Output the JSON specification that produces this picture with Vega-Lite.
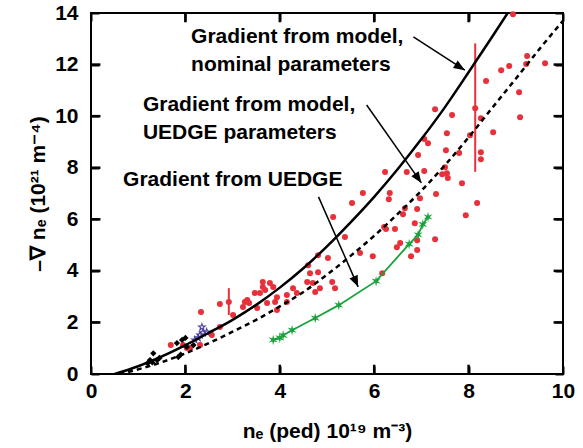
{
  "$schema": "https://vega.github.io/schema/vega-lite/v6.json",
  "width": 472,
  "height": 361,
  "autosize": "none",
  "padding": {"left": 91, "top": 13, "right": 20, "bottom": 74},
  "background": "white",
  "config": {
    "font": "Liberation Sans",
    "view": {"stroke": "black", "strokeWidth": 2},
    "axis": {
      "grid": false,
      "domain": false,
      "ticks": true,
      "zindex": 1,
      "offset": -8,
      "tickColor": "black",
      "tickOpacity": 1,
      "tickWidth": 2,
      "tickSize": 8,
      "labelFont": "Liberation Sans",
      "labelFontSize": 21,
      "labelFontWeight": "bold",
      "labelColor": "black",
      "titleFont": "Liberation Sans",
      "titleFontSize": 21,
      "titleFontWeight": "bold",
      "titleColor": "black",
      "labelFlush": false
    }
  },
  "datasets": {
    "red": [
      {"x":1.69,"y":1.12},{"x":1.95,"y":1.12},{"x":2.03,"y":1.01},{"x":2.10,"y":1.01},{"x":2.31,"y":1.12},
      {"x":2.56,"y":1.51},{"x":2.73,"y":1.82},{"x":2.33,"y":2.40},{"x":2.73,"y":2.71},{"x":2.92,"y":2.79},
      {"x":3.01,"y":2.29},{"x":3.22,"y":2.60},{"x":3.26,"y":2.79},{"x":3.31,"y":2.87},{"x":3.35,"y":2.75},
      {"x":3.52,"y":2.56},{"x":3.58,"y":3.14},{"x":3.64,"y":3.37},{"x":3.69,"y":3.26},{"x":3.79,"y":3.53},
      {"x":3.86,"y":3.37},{"x":3.73,"y":2.75},{"x":3.90,"y":2.79},{"x":3.94,"y":2.98},{"x":4.15,"y":3.06},
      {"x":4.15,"y":2.79},{"x":4.28,"y":3.33},{"x":4.36,"y":3.14},{"x":3.94,"y":2.48},{"x":4.58,"y":3.57},
      {"x":4.64,"y":3.91},{"x":4.70,"y":3.53},{"x":4.75,"y":3.18},{"x":4.85,"y":3.33},{"x":4.81,"y":3.95},
      {"x":5.11,"y":3.57},{"x":5.17,"y":3.33},{"x":4.60,"y":4.22},{"x":4.81,"y":4.61},{"x":5.02,"y":4.50},
      {"x":5.38,"y":5.31},{"x":5.13,"y":6.09},{"x":5.53,"y":6.63},{"x":5.76,"y":7.02},{"x":5.70,"y":4.69},
      {"x":5.97,"y":4.57},{"x":6.17,"y":3.91},{"x":6.23,"y":7.83},{"x":6.69,"y":7.83},{"x":6.93,"y":8.49},
      {"x":6.33,"y":7.02},{"x":6.31,"y":6.78},{"x":6.97,"y":6.82},{"x":6.65,"y":6.43},{"x":6.61,"y":6.20},
      {"x":6.91,"y":6.40},{"x":7.31,"y":6.98},{"x":7.54,"y":7.79},{"x":6.21,"y":5.70},{"x":6.25,"y":5.62},
      {"x":6.44,"y":5.62},{"x":6.86,"y":5.85},{"x":6.48,"y":4.92},{"x":6.55,"y":5.08},{"x":6.91,"y":5.19},
      {"x":6.91,"y":4.81},{"x":6.78,"y":4.57},{"x":7.29,"y":5.23},{"x":7.94,"y":6.16},{"x":8.18,"y":6.63},
      {"x":7.44,"y":7.75},{"x":7.56,"y":7.60},{"x":7.86,"y":7.40},{"x":7.50,"y":8.02},{"x":7.06,"y":9.11},
      {"x":7.14,"y":8.95},{"x":7.52,"y":8.68},{"x":7.80,"y":8.57},{"x":8.26,"y":8.60},{"x":8.26,"y":8.33},
      {"x":7.06,"y":7.87},{"x":7.54,"y":9.34},{"x":8.03,"y":9.26},{"x":8.52,"y":9.38},{"x":7.29,"y":10.27},
      {"x":7.65,"y":10.04},{"x":8.26,"y":9.92},{"x":9.07,"y":10.93},{"x":9.09,"y":9.96},{"x":8.14,"y":10.31},
      {"x":8.37,"y":11.36},{"x":8.69,"y":11.78},{"x":8.86,"y":11.94},{"x":9.22,"y":12.02},{"x":9.24,"y":12.33},
      {"x":9.62,"y":12.05},{"x":8.94,"y":13.95},{"x":3.64,"y":3.57},{"x":3.47,"y":3.14}
    ],
    "errbars": [
      {"x":2.92,"lo":2.29,"hi":3.33},
      {"x":8.14,"lo":7.84,"hi":12.82}
    ],
    "black": [
      {"x":1.20,"y":0.42},{"x":1.25,"y":0.54},{"x":1.32,"y":0.80},{"x":1.40,"y":0.54},{"x":1.45,"y":0.62},
      {"x":1.30,"y":0.45},{"x":1.82,"y":1.20},{"x":1.85,"y":0.66},{"x":1.93,"y":1.32},{"x":2.00,"y":1.40},
      {"x":2.03,"y":1.05},{"x":2.17,"y":1.12},{"x":1.90,"y":0.75}
    ],
    "purple": [
      {"x":2.20,"y":1.32},{"x":2.27,"y":1.40},{"x":2.31,"y":1.51},{"x":2.35,"y":1.82},{"x":2.37,"y":1.60},{"x":2.45,"y":1.63}
    ],
    "nominal": [
      {"x":0.50,"y":0.00},{"x":1.00,"y":0.30},{"x":1.50,"y":0.68},{"x":2.00,"y":1.12},{"x":2.50,"y":1.60},
      {"x":3.00,"y":2.10},{"x":3.50,"y":2.68},{"x":4.00,"y":3.35},{"x":4.50,"y":4.10},{"x":5.00,"y":4.95},
      {"x":5.50,"y":5.88},{"x":6.00,"y":6.87},{"x":6.50,"y":7.95},{"x":7.00,"y":9.11},{"x":7.50,"y":10.35},
      {"x":8.00,"y":11.70},{"x":8.50,"y":13.08},{"x":8.90,"y":14.20}
    ],
    "uedge": [
      {"x":0.60,"y":0.00},{"x":1.00,"y":0.18},{"x":1.50,"y":0.46},{"x":2.00,"y":0.80},{"x":2.50,"y":1.20},
      {"x":3.00,"y":1.64},{"x":3.50,"y":2.10},{"x":4.00,"y":2.62},{"x":4.50,"y":3.18},{"x":5.00,"y":3.85},
      {"x":5.50,"y":4.58},{"x":6.00,"y":5.36},{"x":6.50,"y":6.21},{"x":7.00,"y":7.11},{"x":7.50,"y":8.10},
      {"x":8.00,"y":9.18},{"x":8.50,"y":10.32},{"x":9.00,"y":11.45},{"x":9.50,"y":12.60},{"x":10.00,"y":13.70}
    ],
    "green": [
      {"x":3.86,"y":1.32},{"x":4.00,"y":1.40},{"x":4.07,"y":1.50},{"x":4.26,"y":1.70},{"x":4.75,"y":2.17},
      {"x":5.25,"y":2.67},{"x":6.04,"y":3.60},{"x":6.74,"y":5.04},{"x":6.93,"y":5.40},{"x":7.03,"y":5.80},
      {"x":7.14,"y":6.09}
    ],
    "arrows": [
      {"id":1,"x":6.83,"y":13.07,"x2":7.92,"y2":11.78},
      {"id":2,"x":5.84,"y":10.43,"x2":7.00,"y2":7.41},
      {"id":3,"x":4.82,"y":6.87,"x2":5.66,"y2":3.38}
    ],
    "labels": [
      {"x":2.12,"y":13.06,"text":"Gradient from model,"},
      {"x":2.12,"y":11.98,"text":"nominal parameters"},
      {"x":1.10,"y":10.43,"text":"Gradient from model,"},
      {"x":1.10,"y":9.34,"text":"UEDGE parameters"},
      {"x":0.68,"y":7.52,"text":"Gradient from UEDGE"}
    ],
    "xticks": [{"v":2},{"v":4},{"v":6},{"v":8}],
    "yticks": [{"v":2},{"v":4},{"v":6},{"v":8},{"v":10},{"v":12}]
  },
  "resolve": {"axis": {"x": "independent", "y": "independent"}},
  "layer": [
    {
      "data": {"name": "red"},
      "mark": {"type": "point", "shape": "circle", "filled": true, "color": "#e8303a", "size": 36, "opacity": 1},
      "encoding": {
        "x": {"field": "x", "type": "quantitative", "scale": {"domain": [0, 10], "nice": false, "zero": false},
              "axis": {"orient": "bottom", "values": [0, 2, 4, 6, 8, 10], "labelPadding": 6, "title": "nₑ (ped) 10¹⁹ m⁻³)", "titlePadding": 19}},
        "y": {"field": "y", "type": "quantitative", "scale": {"domain": [0, 14], "nice": false, "zero": false},
              "axis": {"orient": "left", "values": [0, 2, 4, 6, 8, 10, 12, 14], "labelPadding": 13, "title": "–∇ nₑ (10²¹ m⁻⁴)", "titlePadding": 6}}
      }
    },
    {
      "data": {"name": "errbars"},
      "mark": {"type": "rule", "color": "#e8303a", "strokeWidth": 2},
      "encoding": {
        "x": {"field": "x", "type": "quantitative",
              "axis": {"orient": "top", "values": [0, 2, 4, 6, 8, 10], "labels": false, "title": null}},
        "y": {"field": "lo", "type": "quantitative",
              "axis": {"orient": "right", "values": [0, 2, 4, 6, 8, 10, 12, 14], "labels": false, "title": null}},
        "y2": {"field": "hi"}
      }
    },
    {
      "data": {"name": "xticks"},
      "mark": {"type": "rule", "color": "black", "strokeWidth": 2.5},
      "encoding": {
        "x": {"field": "v", "type": "quantitative", "axis": null},
        "y": {"datum": 0, "type": "quantitative", "axis": null},
        "y2": {"datum": 0.36}
      }
    },
    {
      "data": {"name": "xticks"},
      "mark": {"type": "rule", "color": "black", "strokeWidth": 2.5},
      "encoding": {
        "x": {"field": "v", "type": "quantitative", "axis": null},
        "y": {"datum": 14, "type": "quantitative", "axis": null},
        "y2": {"datum": 13.64}
      }
    },
    {
      "data": {"name": "yticks"},
      "mark": {"type": "rule", "color": "black", "strokeWidth": 2.5},
      "encoding": {
        "y": {"field": "v", "type": "quantitative", "axis": null},
        "x": {"datum": 0, "type": "quantitative", "axis": null},
        "x2": {"datum": 0.2}
      }
    },
    {
      "data": {"name": "yticks"},
      "mark": {"type": "rule", "color": "black", "strokeWidth": 2.5},
      "encoding": {
        "y": {"field": "v", "type": "quantitative", "axis": null},
        "x": {"datum": 10, "type": "quantitative", "axis": null},
        "x2": {"datum": 9.8}
      }
    },
    {
      "data": {"name": "black"},
      "mark": {"type": "point", "shape": "diamond", "filled": true, "color": "black", "size": 40, "opacity": 1},
      "encoding": {
        "x": {"field": "x", "type": "quantitative", "axis": null},
        "y": {"field": "y", "type": "quantitative", "axis": null}
      }
    },
    {
      "data": {"name": "purple"},
      "mark": {"type": "point", "shape": "M0,-1L0.235,-0.324L0.951,-0.309L0.38,0.124L0.588,0.809L0,0.4L-0.588,0.809L-0.38,0.124L-0.951,-0.309L-0.235,-0.324Z", "filled": false, "color": "#5040a0", "strokeWidth": 1.1, "size": 48, "opacity": 1},
      "encoding": {
        "x": {"field": "x", "type": "quantitative", "axis": null},
        "y": {"field": "y", "type": "quantitative", "axis": null}
      }
    },
    {
      "data": {"name": "nominal"},
      "mark": {"type": "line", "color": "black", "strokeWidth": 2.5, "interpolate": "monotone", "clip": true},
      "encoding": {
        "x": {"field": "x", "type": "quantitative", "axis": null},
        "y": {"field": "y", "type": "quantitative", "axis": null}
      }
    },
    {
      "data": {"name": "uedge"},
      "mark": {"type": "line", "color": "black", "strokeWidth": 2.5, "strokeDash": [5, 4], "interpolate": "monotone", "clip": true},
      "encoding": {
        "x": {"field": "x", "type": "quantitative", "axis": null},
        "y": {"field": "y", "type": "quantitative", "axis": null}
      }
    },
    {
      "data": {"name": "green"},
      "mark": {"type": "line", "color": "#19a33c", "strokeWidth": 1.8},
      "encoding": {
        "x": {"field": "x", "type": "quantitative", "axis": null},
        "y": {"field": "y", "type": "quantitative", "axis": null}
      }
    },
    {
      "data": {"name": "green"},
      "mark": {"type": "point", "shape": "M0,-1L0.175,-0.303L0.866,-0.5L0.35,0L0.866,0.5L0.175,0.303L0,1L-0.175,0.303L-0.866,0.5L-0.35,0L-0.866,-0.5L-0.175,-0.303Z", "filled": true, "color": "#19a33c", "size": 110, "opacity": 1},
      "encoding": {
        "x": {"field": "x", "type": "quantitative", "axis": null},
        "y": {"field": "y", "type": "quantitative", "axis": null}
      }
    },
    {
      "data": {"name": "arrows"},
      "mark": {"type": "rule", "color": "black", "strokeWidth": 1.5},
      "encoding": {
        "x": {"field": "x", "type": "quantitative", "axis": null},
        "y": {"field": "y", "type": "quantitative", "axis": null},
        "x2": {"field": "x2"},
        "y2": {"field": "y2"}
      }
    },
    {
      "data": {"name": "arrows"},
      "transform": [{"filter": "datum.id == 1"}],
      "mark": {"type": "point", "shape": "M0,0L-0.4,1L0.4,1Z", "filled": true, "color": "black", "size": 500, "opacity": 1, "angle": 122},
      "encoding": {
        "x": {"field": "x2", "type": "quantitative", "axis": null},
        "y": {"field": "y2", "type": "quantitative", "axis": null}
      }
    },
    {
      "data": {"name": "arrows"},
      "transform": [{"filter": "datum.id == 2"}],
      "mark": {"type": "point", "shape": "M0,0L-0.4,1L0.4,1Z", "filled": true, "color": "black", "size": 500, "opacity": 1, "angle": 145},
      "encoding": {
        "x": {"field": "x2", "type": "quantitative", "axis": null},
        "y": {"field": "y2", "type": "quantitative", "axis": null}
      }
    },
    {
      "data": {"name": "arrows"},
      "transform": [{"filter": "datum.id == 3"}],
      "mark": {"type": "point", "shape": "M0,0L-0.4,1L0.4,1Z", "filled": true, "color": "black", "size": 500, "opacity": 1, "angle": 156},
      "encoding": {
        "x": {"field": "x2", "type": "quantitative", "axis": null},
        "y": {"field": "y2", "type": "quantitative", "axis": null}
      }
    },
    {
      "data": {"name": "labels"},
      "mark": {"type": "text", "align": "left", "baseline": "middle", "font": "Liberation Sans", "fontSize": 21, "fontWeight": "bold", "color": "black"},
      "encoding": {
        "x": {"field": "x", "type": "quantitative", "axis": null},
        "y": {"field": "y", "type": "quantitative", "axis": null},
        "text": {"field": "text"}
      }
    }
  ]
}
